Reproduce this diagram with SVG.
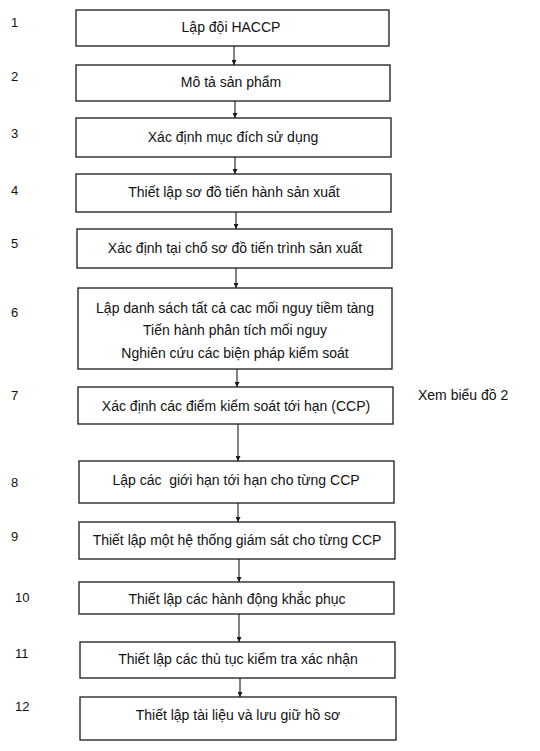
<svg xmlns="http://www.w3.org/2000/svg" width="540" height="751" viewBox="0 0 540 751">
<defs>
<style>
.box{fill:#fff;stroke:#1a1a1a;stroke-width:1.3}
.t{font-family:"Liberation Sans",Arial,sans-serif;font-size:14px;fill:#111;text-anchor:middle}
.n{font-family:"Liberation Sans",Arial,sans-serif;font-size:13px;fill:#111}
.x{font-family:"Liberation Sans",Arial,sans-serif;font-size:14px;fill:#111}
.c{stroke:#1a1a1a;stroke-width:1.1;fill:none;marker-end:url(#ah)}
</style>
<marker id="ah" viewBox="0 0 10 10" refX="10" refY="5" markerWidth="5" markerHeight="5" markerUnits="userSpaceOnUse" orient="auto">
<path d="M0,0 L10,5 L0,10 z" fill="#1a1a1a"/>
</marker>
</defs>
<rect width="540" height="751" fill="#fff"/>
<g id="connectors">
<line class="c" x1="234" y1="46" x2="234" y2="65"/>
<line class="c" x1="235" y1="101" x2="235" y2="118"/>
<line class="c" x1="235" y1="157" x2="235" y2="174"/>
<line class="c" x1="236" y1="212" x2="236" y2="229"/>
<line class="c" x1="236" y1="268" x2="236" y2="288"/>
<line class="c" x1="237" y1="369" x2="237" y2="387"/>
<line class="c" x1="238" y1="424" x2="238" y2="461"/>
<line class="c" x1="238" y1="503" x2="238" y2="522"/>
<line class="c" x1="239" y1="559" x2="239" y2="582"/>
<line class="c" x1="239" y1="614" x2="239" y2="642"/>
<line class="c" x1="240" y1="678" x2="240" y2="697"/>
</g>
<g id="node1"><rect class="box" x="76" y="10" width="313" height="36"/><text class="t" x="231" y="32">Lập đội HACCP</text><text class="n" x="11" y="27">1</text></g>
<g id="node2"><rect class="box" x="76" y="65" width="314" height="36"/><text class="t" x="231" y="87">Mô tả sản phẩm</text><text class="n" x="11" y="81">2</text></g>
<g id="node3"><rect class="box" x="76" y="118" width="315" height="39"/><text class="t" x="233" y="142">Xác định mục đích sử dụng</text><text class="n" x="11" y="138">3</text></g>
<g id="node4"><rect class="box" x="76" y="174" width="315" height="38"/><text class="t" x="234" y="197">Thiết lập sơ đồ tiến hành sản xuất</text><text class="n" x="11" y="195">4</text></g>
<g id="node5"><rect class="box" x="77" y="229" width="315" height="39"/><text class="t" x="235" y="253">Xác định tại chổ sơ đồ tiến trình sản xuất</text><text class="n" x="11" y="248">5</text></g>
<g id="node6"><rect class="box" x="78" y="288" width="314" height="81"/><text class="t" x="235" y="313">Lập danh sách tất cả cac mối nguy tiềm tàng</text><text class="t" x="235" y="335">Tiến hành phân tích mối nguy</text><text class="t" x="235" y="358">Nghiên cứu các biện pháp kiểm soát</text><text class="n" x="11" y="317">6</text></g>
<g id="node7"><rect class="box" x="78" y="387" width="315" height="37"/><text class="t" x="236" y="411">Xác định các điểm kiểm soát tới hạn (CCP)</text><text class="n" x="11" y="400">7</text><text class="x" x="418" y="400">Xem biểu đồ 2</text></g>
<g id="node8"><rect class="box" x="79" y="461" width="315" height="42"/><text class="t" x="236" y="485" xml:space="preserve">Lập các  giới hạn tới hạn cho từng CCP</text><text class="n" x="11" y="487">8</text></g>
<g id="node9"><rect class="box" x="79" y="522" width="316" height="37"/><text class="t" x="237" y="545">Thiết lập một hệ thống giám sát cho từng CCP</text><text class="n" x="11" y="541">9</text></g>
<g id="node10"><rect class="box" x="79" y="582" width="315" height="32"/><text class="t" x="237" y="604">Thiết lập các hành động khắc phục</text><text class="n" x="15" y="602">10</text></g>
<g id="node11"><rect class="box" x="80" y="642" width="315" height="36"/><text class="t" x="238" y="664">Thiết lập các thủ tục kiểm tra xác nhận</text><text class="n" x="15" y="658">11</text></g>
<g id="node12"><rect class="box" x="80" y="697" width="316" height="43"/><text class="t" x="238" y="720">Thiết lập tài liệu và lưu giữ hồ sơ</text><text class="n" x="15" y="711">12</text></g>
</svg>
